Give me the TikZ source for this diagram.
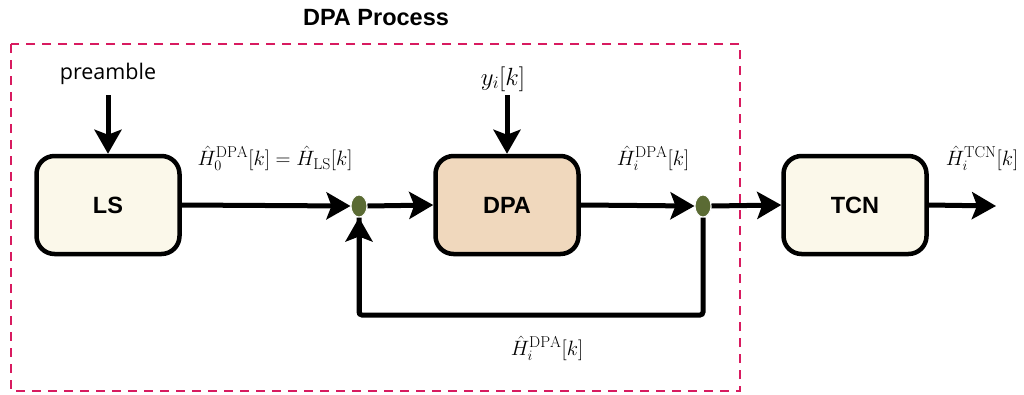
\documentclass[tikz,border=0pt]{standalone}
\usepackage{fontspec}
\newfontfamily\sansfam{Open Sans}
\newfontfamily\boldfam{Liberation Sans}
\usetikzlibrary{arrows.meta,shapes.geometric}
\definecolor{cream}{HTML}{FBF8EA}
\definecolor{tan}{HTML}{F0D8BD}
\definecolor{dashpink}{HTML}{D81B60}
\definecolor{olive}{HTML}{5B6B34}
\tikzset{
  blk/.style={draw=black, line width=4.5pt, rounded corners=18pt, minimum width=143pt, minimum height=98pt, font=\boldfam\fontsize{23.5}{27}\selectfont\bfseries},
  flow/.style={line width=5pt, -{Stealth[length=24pt,width=27pt,inset=5pt]}},
  plain/.style={line width=5pt},
  dot/.style={ellipse, fill=olive, draw=white, line width=1pt, minimum width=16pt, minimum height=22pt, inner sep=0pt},
  lbl/.style={font=\fontsize{22.5}{26}\selectfont},
  txt/.style={font=\sansfam\fontsize{21.5}{25}\selectfont},
}
\begin{document}
\begin{tikzpicture}[x=1pt,y=-1pt]
\useasboundingbox (0,0) rectangle (1024,394);
% dashed region
\draw[dashpink, line width=2pt, dash pattern=on 9pt off 7pt] (11,44) rectangle (740,391);
\node[font=\boldfam\fontsize{23.5}{27}\selectfont\bfseries] (title) at (376,18) {DPA Process};
% blocks
\node[blk, fill=cream] (ls) at (108,205) {LS};
\node[blk, fill=tan] (dpa) at (507,205) {DPA};
\node[blk, fill=cream] (tcn) at (855,205) {TCN};
% dots
\node[dot] (d1) at (359,206) {};
\node[dot] (d2) at (703,206) {};
% inputs
\node[txt] (pre) at (108,74) {preamble};
\node[font=\fontsize{26}{30}\selectfont] (y) at (503,79) {$y_i[k]$};
\coordinate (pret) at (108,95);
\coordinate (yt) at (507,95);
\draw[flow] (pret) -- (ls.north);
\draw[flow] (yt) -- (dpa.north);
% main flow
\draw[flow] (ls.east) -- (d1.west);
\draw[flow] (d1.east) -- (dpa.west);
\draw[flow] (dpa.east) -- (d2.west);
\draw[flow] (d2.east) -- (tcn.west);
\coordinate (out) at (996,206);
\draw[flow] (tcn.east) -- (out);
% feedback
\coordinate (fbr) at (703,315);
\coordinate (fbl) at (359,315);
\draw[plain, rounded corners=3pt] (d2.south) -- (fbr) -- (fbl) -- (d1.south) ;
\draw[flow] (fbl) -- (d1.south);
% labels
\node[lbl] (l1) at (275,158) {$\hat{H}_0^{\mathrm{DPA}}[k] = \hat{H}_{\mathrm{LS}}[k]$};
\node[lbl] (l2) at (653,158) {$\hat{H}_i^{\mathrm{DPA}}[k]$};
\node[lbl] (l3) at (982,158) {$\hat{H}_i^{\mathrm{TCN}}[k]$};
\node[lbl] (l4) at (547,348) {$\hat{H}_i^{\mathrm{DPA}}[k]$};
\end{tikzpicture}
\end{document}
